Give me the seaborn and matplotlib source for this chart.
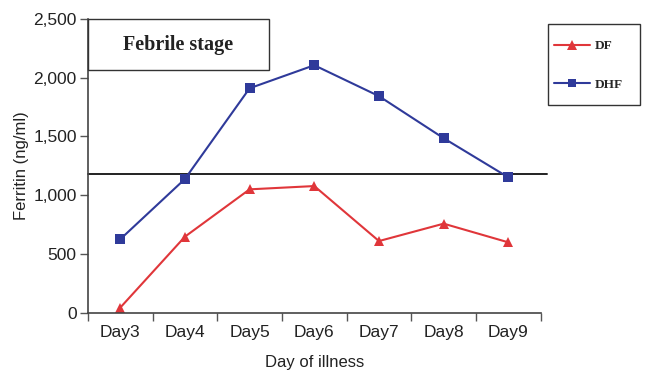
import matplotlib
matplotlib.use("Agg")
import matplotlib.pyplot as plt
import matplotlib.ticker as mticker
from matplotlib.patches import Rectangle
from matplotlib.lines import Line2D
import seaborn as sns
import pandas as pd

days = ["Day3", "Day4", "Day5", "Day6", "Day7", "Day8", "Day9"]
df_values = [43, 647, 1050, 1078, 610, 758, 599]
dhf_values = [625, 1138, 1910, 2106, 1843, 1485, 1152]
cutoff = 1178
yticks = [0, 500, 1000, 1500, 2000, 2500]

sns.set_style("white")
plt.rcParams["font.family"] = ["Liberation Sans", "DejaVu Sans"]

data = pd.DataFrame({
    "day": days * 2,
    "x": list(range(len(days))) * 2,
    "value": df_values + dhf_values,
    "group": ["DF"] * len(days) + ["DHF"] * len(days),
})

red = "#e0363a"
blue = "#2f3a9a"

W, H = 646, 371
fig = plt.figure(figsize=(W / 100, H / 100), dpi=100)
ax = fig.add_axes([0.136, 0.157, 0.701, 0.792])

sns.lineplot(data=data, x="x", y="value", hue="group", style="group",
             palette={"DF": red, "DHF": blue},
             markers={"DF": "^", "DHF": "s"}, dashes=False,
             markersize=7, linewidth=1.5, markeredgewidth=0,
             legend=False, ax=ax)

ax.set_xlim(-0.5, len(days) - 0.5)
ax.set_ylim(0, 2500)
ax.xaxis.set_major_locator(mticker.FixedLocator([i - 0.5 for i in range(len(days) + 1)]))
ax.xaxis.set_major_formatter(mticker.NullFormatter())
ax.xaxis.set_minor_locator(mticker.FixedLocator(list(range(len(days)))))
ax.xaxis.set_minor_formatter(mticker.FixedFormatter(days))
ax.tick_params(axis="x", which="major", direction="out", length=6, width=1, color="#555555", bottom=True)
ax.tick_params(axis="x", which="minor", length=0, pad=9, labelsize=12.5, labelcolor="#222222")
ax.set_yticks(yticks)
ax.yaxis.set_major_formatter(mticker.FuncFormatter(lambda v, p: f"{int(v):,}"))
ax.tick_params(axis="y", direction="out", length=6, width=1, color="#555555", left=True, labelsize=12.5, labelcolor="#222222", pad=2)

for s in ["top", "right"]:
    ax.spines[s].set_visible(False)
for s in ["left", "bottom"]:
    ax.spines[s].set_color("#444444")
    ax.spines[s].set_linewidth(1.2)

ax.axhline(cutoff, xmin=0, xmax=1.015, color="#222222", linewidth=1.4, clip_on=False, zorder=1)

ax.set_xlabel("Day of illness", fontsize=12, color="#222222", labelpad=10.5)
ax.set_ylabel("Ferritin (ng/ml)", fontsize=12, color="#222222", labelpad=3)

# Febrile stage box
ax.add_patch(Rectangle((0, 0.825), 0.40, 0.175, transform=ax.transAxes,
                       facecolor="white", edgecolor="#333333", linewidth=1.0, zorder=3, clip_on=False))
ax.text(0.20, 0.912, "Febrile stage", transform=ax.transAxes, ha="center", va="center",
        fontsize=14.5, fontweight="bold", family=["Liberation Serif", "DejaVu Serif"], zorder=4, color="#222222")

# Legend frame
fig.patches.append(Rectangle((548 / W, 1 - 105 / H), 92 / W, 81 / H, transform=fig.transFigure,
                             facecolor="white", edgecolor="#333333", linewidth=1.0))

handles = [Line2D([], [], color=red, marker="^", markersize=7, markeredgewidth=0, linewidth=1.5),
           Line2D([], [], color=blue, marker="s", markersize=6, markeredgewidth=0, linewidth=1.5)]
leg = fig.legend(handles, ["DF", "DHF"], loc="upper left", bbox_to_anchor=(554 / W, 1 - 40 / H),
                 frameon=False, handlelength=2.7,
                 labelspacing=2.0, borderpad=0, handletextpad=0.4, borderaxespad=0,
                 prop={"family": ["Liberation Serif", "DejaVu Serif"], "weight": "bold", "size": 9.5})

fig.savefig("out.png", dpi=100)
